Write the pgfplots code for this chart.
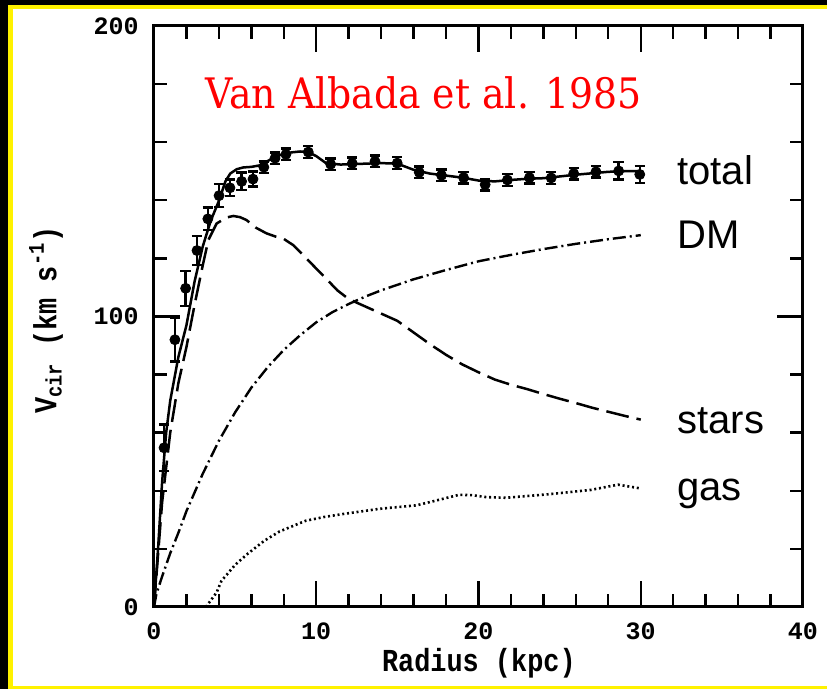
\documentclass[border=0pt]{standalone}
\usepackage{fontspec}
\setmainfont{Liberation Sans}
\newfontfamily\tickf{Liberation Mono}
\newfontfamily\labf{Liberation Mono}[FakeStretch=0.84]
\newfontfamily\serf{DejaVu Serif}[FakeStretch=0.9]
\usepackage{pgfplots}
\pgfplotsset{compat=1.18}
\usepackage{pgfplotstable}

\pgfplotstableread{
r v e
0.62 54.8 8
1.29 92.0 7.5
1.95 109.7 6
2.65 122.7 5
3.32 133.6 3.9
4.01 141.6 4
4.68 144.3 2.8
5.40 146.5 3
6.10 147.3 2.6
6.77 151.4 2
7.46 154.5 2
8.13 155.8 2
9.51 156.6 2
10.89 152.4 2
12.22 152.7 2
13.62 153.4 2
14.99 152.8 2
16.35 149.6 2
17.72 148.6 2
19.08 147.8 2
20.41 145.4 2
21.78 147.0 2
23.14 147.8 2
24.48 147.7 2
25.87 149.2 2
27.24 149.8 2
28.64 150.1 3
29.94 148.9 3
}\obsdata

\pgfplotstableread{
r v
0 0
0.25 20
0.5 43
0.75 60
1.0 71
1.5 86
2.0 97
2.5 112
3.0 124
3.5 133
4.0 139.8
4.4 146.5
4.7 149.2
5.1 150.7
5.5 151.3
6.0 151.5
6.5 152
7.0 153.5
7.5 155
8.0 156
8.5 156.5
9.0 156.8
9.5 156.6
10.0 155.2
10.6 152.8
11.5 152.3
12.5 152.5
14 152.8
15 152.6
16 150.5
17 149.2
18 148.5
19 147.8
20 146.8
21 146.5
22 147
23 147.4
24 147.6
25 148.2
26 148.8
27 149.3
28 149.8
29 150
30 150
}\totaldata

\pgfplotstableread{
r v
0 0
0.5 36
1.0 60
1.5 77
2.0 89.5
2.5 104
3.0 117.5
3.35 126.3
3.86 132
4.48 134.1
4.89 134.6
5.3 134.2
5.7 133.2
6.3 130.5
6.94 128.6
7.5 127.5
7.97 126.8
8.6 124.5
9.3 120.5
10.0 116.5
10.7 112.5
11.3 109
12 106
13 103.5
14 101
15 98.5
16 94.5
17 90.5
18 86.8
19 83.5
20 80.8
21 78.3
22 76.5
23 75
24 73.3
25 71.7
26 70.2
27 68.6
28 67.2
29 65.8
30 64.5
}\starsdata

\pgfplotstableread{
r v
0 0
0.15 4.5
0.5 10.5
1.0 18.5
1.5 25.5
2.0 33
3.0 45.8
4.0 57.2
5.0 67
6.0 75.5
7.0 82.5
8.0 88.5
9.0 93.5
10.0 98
11.0 101.5
12.0 104.3
13.0 106.8
14.0 109
16.0 112.8
18.0 116
20.0 119
22.0 121.2
24.0 123.2
26.0 125
28.0 126.6
30.0 128
}\dmdata

\pgfplotstableread{
r v
3.2 0
3.86 5
4.16 9
5.0 14.5
5.79 18.4
6.8 22.8
7.74 26
9.36 29.7
10.5 31
11.64 32
13.91 33.8
16.19 35
17.5 36.8
18.79 38.6
19.6 38.5
20.5 37.8
21.71 37.6
24.31 38.8
26.92 40.3
28.6 42.1
30 40.8
}\gasdata

\begin{document}
\begin{tikzpicture}
\useasboundingbox (0,0) rectangle (413.5pt,344.5pt);
\fill[black] (0,0) rectangle (413.5pt,344.5pt);
\fill[yellow] (4.15pt,0) rectangle (413.5pt,342.15pt);
\fill[white] (6.35pt,1.35pt) rectangle (413.5pt,340pt);
\begin{axis}[
  at={(77pt,41pt)}, anchor=south west,
  scale only axis, width=324.5pt, height=290.5pt,
  xmin=0, xmax=40, ymin=0, ymax=200,
  xtick={0,10,20,30,40}, ytick={0,100,200},
  minor x tick num=4, minor y tick num=4,
  major tick length=13pt, minor tick length=6.5pt,
  axis line style={line width=1.5pt},
  every tick/.style={black, line width=1.2pt},
  /pgf/number format/assume math mode=true,
  ticklabel style={font=\tickf\bfseries\fontsize{12.5pt}{12.5pt}\selectfont, inner sep=0pt},
  xticklabel style={anchor=center, yshift=-12pt},
  yticklabel style={anchor=east, xshift=-7.5pt},
  xlabel={Radius (kpc)},
  ylabel={V\textsubscript{cir} (km s\textsuperscript{-1})},
  label style={font=\labf\bfseries\fontsize{16pt}{16pt}\selectfont, inner sep=0pt},
  xlabel style={at={(axis description cs:0.5006,-0.111)}, anchor=base},
  ylabel style={at={(axis description cs:-0.1664,0.494)}, anchor=center, rotate=0},
]
\addplot[black, line width=1.25pt] table[x=r,y=v] {\totaldata};
\addplot[black, line width=1.25pt, dash pattern=on 11.5pt off 4pt] table[x=r,y=v] {\starsdata};
\addplot[black, line width=1.2pt, dash pattern=on 6.5pt off 2pt on 1pt off 2pt] table[x=r,y=v] {\dmdata};
\addplot[black, line width=1.3pt, dash pattern=on 1pt off 1.4pt] table[x=r,y=v] {\gasdata};
\addplot[black, only marks, mark=*, mark size=2.5pt,
  error bars/.cd, y dir=both, y explicit,
  error bar style={line width=1.2pt},
  error mark options={black, mark size=2.6pt, line width=1.2pt, rotate=90}]
  table[x=r,y=v,y error=e] {\obsdata};
\node[anchor=base west, inner sep=0, text=red, font=\serf\fontsize{21pt}{21pt}\selectfont] at (axis cs:3.14,171.7) {Van Albada et al. 1985};
\node[anchor=base west, inner sep=0, font=\fontsize{20pt}{20pt}\selectfont] at (axis cs:32.23,145.5) {total};
\node[anchor=base west, inner sep=0, font=\fontsize{20pt}{20pt}\selectfont] at (axis cs:32.23,123.5) {DM};
\node[anchor=base west, inner sep=0, font=\fontsize{20pt}{20pt}\selectfont] at (axis cs:32.23,59.8) {stars};
\node[anchor=base west, inner sep=0, font=\fontsize{20pt}{20pt}\selectfont] at (axis cs:32.23,36.6) {gas};
\end{axis}
\end{tikzpicture}
\end{document}
